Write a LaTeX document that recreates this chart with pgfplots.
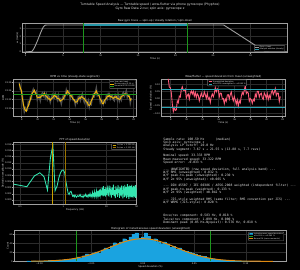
\documentclass[border=0pt]{standalone}
\usepackage{fontspec}
\setmainfont{DejaVu Sans}
\setmonofont{DejaVu Sans Mono}
\usepackage{pgfplots}
\pgfplotsset{compat=1.18}
\usepackage{pgfplotstable}
\definecolor{txt}{HTML}{E6E6E6}
\definecolor{axgrey}{HTML}{A0A0A0}
\definecolor{gridgrey}{HTML}{2C2C2C}
\definecolor{leggrey}{HTML}{707070}
\definecolor{rawgrey}{HTML}{9E9E9E}
\definecolor{wincyan}{HTML}{2596A8}
\definecolor{wingreen}{HTML}{1C961C}
\definecolor{gold}{HTML}{F2B705}
\definecolor{pinkc}{HTML}{FF5C7A}
\definecolor{tealc}{HTML}{2AA8B8}
\definecolor{fftgreen}{HTML}{33E6B0}
\definecolor{goldv}{HTML}{C8A000}
\definecolor{orangev}{HTML}{9C7400}
\definecolor{histblue}{HTML}{1AA3E0}
\definecolor{fitorange}{HTML}{E08A10}
\pgfplotsset{
  dark/.style={
    scale only axis, anchor=south west,
    axis background/.style={fill=black},
    axis line style={draw=axgrey, line width=1.2pt},
    grid=major, major grid style={draw=gridgrey, line width=1.1pt},
    tick pos=left, tick align=outside,
    major tick length=2.4pt, minor tick length=1.4pt,
    every tick/.style={draw=axgrey, line width=1pt},
    ticklabel style={font=\fontsize{4.4}{5}\selectfont, text=txt, inner sep=1pt},
    label style={font=\fontsize{4.8}{5.5}\selectfont, text=txt, inner sep=1pt},
    every axis title/.style={at={(0.5,1)}, anchor=base, yshift=2.6pt, font=\fontsize{5.4}{6}\selectfont, text=txt},
    /pgf/number format/assume math mode=true,
    scaled ticks=false,
    legend style={font=\fontsize{3.8}{4.4}\selectfont, text=txt, fill=black, draw=leggrey, line width=0.8pt, rounded corners=0.8pt, inner sep=0.8pt, row sep=-0.8pt, nodes={inner sep=0.6pt}},
    legend cell align=left,
    legend image code/.code={\draw[#1, line width=2pt] (0pt,0pt) -- (7pt,0pt);},
  }
}
\pgfplotstableread{
t avg raw
7.700 0.126 0.137
7.825 0.096 0.081
7.950 0.074 0.077
8.075 0.018 0.042
8.200 -0.028 -0.035
8.325 -0.060 -0.088
8.450 -0.078 -0.062
8.575 -0.086 -0.080
8.700 -0.056 -0.077
8.825 -0.045 -0.015
8.950 -0.018 -0.027
9.075 0.002 0.019
9.200 0.037 0.012
9.325 0.054 0.063
9.450 0.062 0.083
9.575 0.077 0.059
9.700 0.057 0.057
9.825 0.046 0.067
9.950 0.018 0.005
10.075 0.019 0.023
10.200 0.023 0.033
10.325 0.020 -0.002
10.450 0.033 0.038
10.575 0.033 0.054
10.700 0.037 0.033
10.825 0.053 0.053
10.950 0.040 0.019
11.075 0.026 0.044
11.200 0.025 0.008
11.325 0.009 0.034
11.450 0.011 0.023
11.575 -0.001 -0.014
11.700 0.010 0.014
11.825 0.017 0.039
11.950 0.024 0.015
12.075 0.043 0.014
12.200 0.029 0.048
12.325 0.028 0.028
12.450 0.013 0.003
12.575 0.013 0.037
12.700 0.007 -0.003
12.825 -0.007 0.008
12.950 0.000 -0.026
13.075 0.003 0.014
13.200 0.010 0.033
13.325 0.030 0.013
13.450 0.040 0.037
13.575 0.050 0.077
13.700 0.072 0.048
13.825 0.059 0.069
13.950 0.051 0.062
14.075 0.033 0.013
14.200 0.033 0.039
14.325 0.019 0.038
14.450 0.005 -0.001
14.575 0.003 0.002
14.700 -0.015 -0.033
14.825 -0.014 -0.002
14.950 -0.011 -0.017
15.075 0.007 0.026
15.200 0.018 0.029
15.325 0.014 -0.001
15.450 0.027 0.030
15.575 0.023 0.047
15.700 0.015 0.008
15.825 0.013 -0.015
15.950 0.000 0.016
16.075 -0.014 -0.008
16.200 -0.016 -0.037
16.325 -0.037 -0.007
16.450 -0.041 -0.050
16.575 -0.032 -0.015
16.700 -0.004 -0.029
16.825 0.009 0.018
16.950 0.023 0.044
17.075 0.048 0.030
17.200 0.058 0.058
17.325 0.071 0.092
17.450 0.049 0.036
17.575 0.042 0.046
17.700 0.029 0.039
17.825 0.005 -0.017
17.950 -0.003 0.002
18.075 -0.027 -0.006
18.200 -0.027 -0.031
18.325 -0.004 -0.004
18.450 0.006 -0.015
18.575 0.014 0.032
18.700 0.030 0.013
18.825 0.027 0.052
18.950 0.040 0.052
19.075 0.025 0.012
19.200 0.028 0.032
19.325 0.017 0.039
19.450 0.014 0.005
19.575 0.025 -0.004
19.700 0.022 0.041
19.825 0.027 0.027
19.950 0.012 0.002
20.075 0.012 0.036
20.200 0.006 -0.004
20.325 0.009 0.024
20.450 0.029 0.003
20.575 0.032 0.043
20.700 0.035 0.058
20.825 0.047 0.030
20.950 0.048 0.045
21.075 0.044 0.071
21.200 0.046 0.022
21.325 0.029 0.039
21.450 0.028 0.039
21.575 0.000 -0.020
21.700 0.011 0.017
}\wfdata
\begin{document}
\begin{tikzpicture}[x=1pt,y=1pt]
\fill[black] (0,0) rectangle (600,540);
\path[use as bounding box] (0,0) rectangle (600,540);
\node[anchor=base, font=\fontsize{6.2}{7}\selectfont, text=txt] at (300,529.4) {Turntable Speed Analysis — Turntable speed / wow-flutter via phone gyroscope (Phyphox)};
\node[anchor=base, font=\fontsize{6.2}{7}\selectfont, text=txt] at (300,521.4) {Gyro Raw Data 2.csv; spin axis: gyroscope z};

% ---------- top: raw gyro trace
\begin{axis}[dark, at={(45.4pt,434.6pt)}, width=529.2pt, height=58.8pt,
  xmin=-0.4, xmax=34.9, ymin=-0.13, ymax=3.71,
  xtick={0,5,10,15,20,25,30}, ytick={0,1,2,3},
  title={Raw gyro trace — spin-up / steady rotation / spin-down},
  xlabel={Time (s)}, ylabel={ω (rad/s)},
  legend style={at={(0.99,0.04)}, anchor=south east}]
\addplot[rawgrey, line width=1.8pt] coordinates {
(0,0) (0.4,0.0) (0.8,0.02) (1.0,0.25) (1.2,0.6) (1.4,1.05) (1.6,1.5) (1.8,2.0) (2.0,2.5) (2.2,2.95) (2.4,3.3) (2.6,3.46) (2.8,3.49) (5,3.49) (10,3.49) (15,3.49) (20,3.49) (26.4,3.49) (27.0,3.12) (28.0,2.49) (29.0,1.86) (30.0,1.23) (31.0,0.60) (31.9,0.03) (32.4,0.0) (34.9,0.0)};
\addlegendentry{Gyro z (raw)}
\addplot[wincyan, line width=2.3pt] coordinates {(7.67,3.49) (21.55,3.49)};
\addlegendentry{Analysis window (steady)}
\addplot[wingreen, line width=2pt, forget plot] coordinates {(7.67,-0.13) (7.67,3.71)};
\addplot[wingreen, line width=2pt, forget plot] coordinates {(21.55,-0.13) (21.55,3.71)};
\end{axis}

% ---------- mid-left: RPM vs time
\begin{axis}[dark, at={(26.6pt,306.6pt)}, width=246.8pt, height=75.4pt,
  xmin=6.95, xmax=22.375, ymin=33.281, ymax=33.3676,
  xtick={8,10,12,14,16,18,20,22},
  ytick={33.30,33.32,33.34,33.36}, yticklabels={33.30,33.32,33.34,33.36},
  title={RPM vs time (steady-state segment)},
  xlabel={Time (s)}, ylabel={RPM},
  legend style={at={(0.99,0.98)}, anchor=north east}]
\addplot[rawgrey!50!black, line width=3pt] table[x=t, y expr={33.319+0.30*\thisrow{raw}}] {\wfdata};
\addlegendentry{Yaw rate (raw)}
\addplot[gold, line width=1.8pt] table[x=t, y expr={33.319+0.30*\thisrow{avg}}] {\wfdata};
\addlegendentry{Moving-avg (0.10 s)}
\addplot[wingreen, line width=2pt] coordinates {(6.95,33.333) (22.375,33.333)};
\addlegendentry{Nominal 33.333 RPM}
\end{axis}

% ---------- mid-right: wow/flutter deviation
\begin{axis}[dark, at={(323.4pt,306.6pt)}, width=246.6pt, height=75.4pt,
  xmin=6.875, xmax=22.29, ymin=-0.1236, ymax=0.1366,
  xtick={8,10,12,14,16,18,20,22},
  ytick={-0.10,-0.05,0,0.05,0.10}, yticklabels={−0.10,−0.05,0.00,0.05,0.10},
  title={Wow/flutter — speed deviation from mean (unweighted)},
  xlabel={Time (s)}, ylabel={Speed deviation (\%)},
  legend style={at={(0.53,0.98)}, anchor=north}]
\addplot[pinkc, line width=1.8pt] table[x=t, y=raw] {\wfdata};
\addlegendentry{Unweighted deviation}
\addplot[tealc, line width=2pt] coordinates {(6.875,0.065) (22.29,0.065)};
\addlegendentry{±2σ 95\% unweighted = ±0.065 \%}
\addplot[tealc, line width=2pt, forget plot] coordinates {(6.875,-0.062) (22.29,-0.062)};
\end{axis}

% ---------- FFT
\begin{axis}[dark, at={(26.6pt,131.4pt)}, width=246.8pt, height=124pt,
  xmode=log, xmin=0.07, xmax=50, ymin=-0.00139, ymax=0.01865,
  xtick={0.1,1,10,50}, xticklabels={0.1,1,10,50},
  ytick={0,0.002,0.004,0.006,0.008,0.010,0.012,0.014,0.016,0.018},
  yticklabels={0.000,0.002,0.004,0.006,0.008,0.010,0.012,0.014,0.016,0.018},
  title={FFT of speed deviation},
  xlabel={Frequency (Hz)}, ylabel={Deviation amplitude (\%)},
  legend style={at={(0.99,0.98)}, anchor=north east}]
\addplot[fftgreen, line width=1.7pt, forget plot] coordinates {
(0.072,0.0051) (0.144,0.0043) (0.216,0.0078) (0.288,0.0088) (0.360,0.0075) (0.432,0.0032)
(0.504,0.0135) (0.576,0.0178) (0.648,0.0030) (0.720,0.0045) (0.792,0.0072) (0.864,0.0088)
(0.936,0.0096) (1.008,0.0097) (1.080,0.0088) (1.152,0.0060) (1.224,0.0040) (1.296,0.0022)
(1.368,0.0018) (1.440,0.0026) (1.512,0.0028) (1.584,0.0020) (1.656,0.0012) (1.728,0.0015) (1.800,0.0010)
(1.872,0.0016) (2.016,0.0009) (2.160,0.0014) (2.304,0.0011) (2.448,0.0018) (2.592,0.0010) (2.736,0.0013)
(2.880,0.0008) (3.024,0.0015) (3.168,0.0012) (3.312,0.0019) (3.456,0.0011) (3.600,0.0014) (3.744,0.0009)
(3.888,0.0017) (4.032,0.0013) (4.176,0.0021) (4.320,0.0012) (4.464,0.0016) (4.608,0.0010) (4.752,0.0024)
(4.896,0.0014) (5.040,0.0019) (5.184,0.0011) (5.328,0.0026) (5.472,0.0015) (5.616,0.0020) (5.760,0.0012)
(5.904,0.0028) (6.048,0.0016) (6.192,0.0022) (6.336,0.0013) (6.480,0.0030) (6.624,0.0018) (6.768,0.0024)
(6.912,0.0011) (7.056,0.0034) (7.200,0.0017) (7.344,0.0026) (7.488,0.0014) (7.632,0.0031) (7.776,0.0019)
(7.920,0.0040) (8.064,0.0015) (8.208,0.0028) (8.352,0.0012) (8.496,0.0045) (8.640,0.0020) (8.784,0.0030)
(8.928,0.0014) (9.072,0.0036) (9.216,0.0018) (9.360,0.0027) (9.504,0.0011) (9.648,0.0042) (9.792,0.0022)
(9.936,0.0033) (10.0,0.0016) (10.5,0.0038) (11.0,0.0012) (11.5,0.0046) (12.0,0.0020) (12.5,0.0035)
(13.0,0.0008) (13.5,0.0041) (14.0,0.0017) (14.5,0.0050) (15.0,0.0013) (15.5,0.0032) (16.0,0.0006)
(16.5,0.0044) (17.0,0.0019) (17.5,0.0037) (18.0,0.0010) (18.5,0.0048) (19.0,0.0022) (19.5,0.0034)
(20.0,0.0007) (20.5,0.0043) (21.0,0.0015) (21.5,0.0039) (22.0,0.0011) (22.5,0.0047) (23.0,0.0018)
(23.5,0.0031) (24.0,0.0005) (24.5,0.0045) (25.0,0.0021) (25.5,0.0036) (26.0,0.0009) (26.5,0.0049)
(27.0,0.0016) (27.5,0.0033) (28.0,0.0012) (28.5,0.0042) (29.0,0.0006) (29.5,0.0038) (30.0,0.0019)
(30.5,0.0051) (31.0,0.0010) (31.5,0.0035) (32.0,0.0014) (32.5,0.0044) (33.0,0.0004) (33.5,0.0040)
(34.0,0.0017) (34.5,0.0047) (35.0,0.0011) (35.5,0.0032) (36.0,0.0020) (36.5,0.0045) (37.0,0.0008)
(37.5,0.0037) (38.0,0.0015) (38.5,0.0049) (39.0,0.0010) (39.5,0.0034) (40.0,0.0022) (40.5,0.0041)
(41.0,0.0006) (41.5,0.0039) (42.0,0.0016) (42.5,0.0046) (43.0,0.0012) (43.5,0.0030) (44.0,0.0019)
(44.5,0.0043) (45.0,0.0009) (45.5,0.0036) (46.0,0.0014) (46.5,0.0048) (47.0,0.0007) (47.5,0.0033)
(48.0,0.0018) (48.5,0.0040) (49.0,0.0011) (49.5,0.0037) (50.0,0.0020)};
\addplot[goldv, line width=2pt] coordinates {(0.556,-0.00139) (0.556,0.01865)};
\addlegendentry{1×/rev = 0.556 Hz}
\addplot[orangev, line width=2pt] coordinates {(1.111,-0.00139) (1.111,0.01865)};
\addlegendentry{2×/rev = 1.111 Hz}
\end{axis}

% ---------- text block
\node[anchor=north west, align=left, inner sep=0pt, text=txt, font=\ttfamily\fontsize{6.2}{6.67}\selectfont] at (326.6,264.7) {%
Sample rate: 100.59 Hz~~~~~~(median)\\
Spin axis: gyroscope z\\
Analysis LP cutoff: 20.0 Hz\\
Steady segment: 7.67 s → 21.55 s (13.88 s, 7.7 revs)\\[6.67pt]
Nominal speed: 33.333 RPM\\
Mean measured speed: 33.322 RPM\\
Speed error: -0.033 \%\\[6.67pt]
-{}-{}- UNWEIGHTED (raw speed deviation, full analysis band) -{}-{}-\\
W/F RMS (unweighted): 0.032 \%\\
W/F peak-to-peak (unweighted): 0.230 \%\\
W/F 2σ 95\% (unweighted): ±0.065 \%\\[6.67pt]
-{}-{}- DIN 45507 / IEC 60386 / AES6-2008 weighted (independent filter) -{}-{}-\\
W/F peak-to-peak (weighted): 0.133 \%\\
W/F 2σ 95\% (weighted): ±0.042 \%\\[6.67pt]
-{}-{}- JIS-style weighted RMS (same filter; RMS convention per JIS) -{}-{}-\\
W/F WRMS (JIS-style): 0.020 \%\\[20pt]
Once/rev component: 0.583 Hz, 0.018 \%\\
Twice/rev component: 1.099 Hz, 0.000 \%\\
Dominant peak (0.05 Hz–Nyquist): 0.576 Hz, 0.018 \%};

% ---------- histogram
\begin{axis}[dark, at={(28.6pt,17.4pt)}, width=544.8pt, height=61.2pt,
  xmin=-0.1244, xmax=0.1395, ymin=0, ymax=69,
  xtick={-0.10,-0.05,0,0.05,0.10}, xticklabels={−0.10,−0.05,0.00,0.05,0.10},
  ytick={0,20,40,60},
  title={Histogram of instantaneous speed deviation (unweighted)},
  xlabel={Speed deviation (\%)}, ylabel={Count},
  legend style={at={(0.99,0.96)}, anchor=north east}]
\addplot[ybar, bar width=0.003, fill=histblue, draw=histblue, line width=0.1pt,
  legend image code/.code={\fill[histblue] (0pt,-1.5pt) rectangle (7pt,1.5pt);}] coordinates {
(-0.111,1) (-0.108,0) (-0.105,1) (-0.102,0) (-0.099,1) (-0.096,1) (-0.093,0) (-0.090,2)
(-0.087,1) (-0.084,2) (-0.081,3) (-0.078,2) (-0.075,4) (-0.072,5) (-0.069,4) (-0.066,7)
(-0.063,10) (-0.060,8) (-0.057,13) (-0.054,17) (-0.051,15) (-0.048,19) (-0.045,21) (-0.042,18)
(-0.039,26) (-0.036,30) (-0.033,27) (-0.030,35) (-0.027,42) (-0.024,38) (-0.021,44) (-0.018,51)
(-0.015,47) (-0.012,55) (-0.009,61) (-0.006,64) (-0.003,52) (0.000,55) (0.003,64) (0.006,56)
(0.009,47) (0.012,51) (0.015,44) (0.018,40) (0.021,44) (0.024,38) (0.027,32) (0.030,34)
(0.033,28) (0.036,30) (0.039,25) (0.042,23) (0.045,21) (0.048,19) (0.051,17) (0.054,14)
(0.057,12) (0.060,11) (0.063,8) (0.066,6) (0.069,6) (0.072,4) (0.075,3) (0.078,3)
(0.081,2) (0.084,1) (0.087,2) (0.090,1) (0.093,0) (0.096,1) (0.099,1) (0.102,0)};
\addlegendentry{Instantaneous speed deviation}
\addplot[wingreen, line width=2pt] coordinates {(-0.064,0) (-0.064,69)};
\addlegendentry{±2σ 95\% = ±0.065 \%}
\addplot[wingreen, line width=2pt, forget plot] coordinates {(0.066,0) (0.066,69)};
\addplot[fitorange, line width=2pt, smooth] coordinates {
(-0.108,0.2) (-0.102,0.37) (-0.096,0.65) (-0.090,1.1) (-0.084,1.8) (-0.078,2.9) (-0.072,4.4)
(-0.066,6.5) (-0.060,9.3) (-0.054,12.8) (-0.048,17.1) (-0.042,22.1) (-0.036,27.6) (-0.030,33.3)
(-0.024,38.8) (-0.018,43.8) (-0.012,47.6) (-0.006,50.1) (0,51) (0.006,50.1) (0.012,47.6)
(0.018,43.8) (0.024,38.8) (0.030,33.3) (0.036,27.6) (0.042,22.1) (0.048,17.1) (0.054,12.8)
(0.060,9.3) (0.066,6.5) (0.072,4.4) (0.078,2.9) (0.084,1.8) (0.090,1.1) (0.096,0.65)
(0.102,0.37) (0.108,0.2) (0.114,0.11) (0.120,0.06) (0.126,0.03)};
\addlegendentry{Normal fit (same moments)}
\end{axis}
\end{tikzpicture}
\end{document}
